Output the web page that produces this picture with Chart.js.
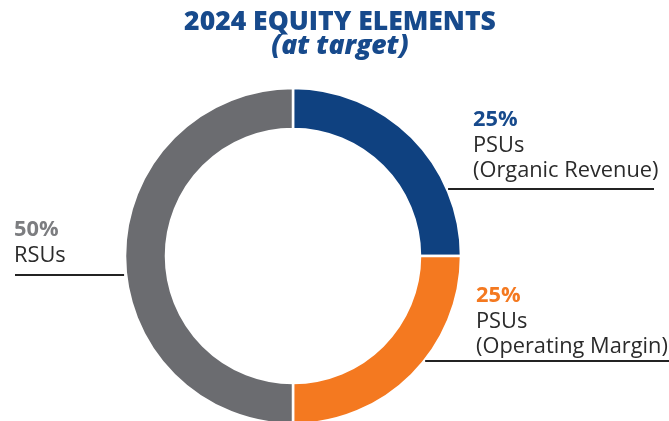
<!DOCTYPE html>
<html lang="en">
<head>
  <meta charset="UTF-8" />
  <title>2024 Equity Elements</title>
  <script src="https://cdn.jsdelivr.net/npm/chart.js"></script>
  <style>
    html, body {
      margin: 0;
      padding: 0;
      background: #fff;
      overflow: hidden;
    }
    .chart-box {
      width: 669px;
      height: 421px;
      position: relative;
    }
  </style>
</head>
<body>
  <div class="chart-box">
    <canvas id="equity"></canvas>
  </div>

  <script>
    // Equity mix at target, clockwise from 12 o'clock
    const categories = ['PSUs\n(Organic Revenue)', 'PSUs\n(Operating Margin)', 'RSUs'];
    const shares = [25, 25, 50];
    const sliceColors = ['#0f4180', '#f47920', '#6b6c70'];
    const pctColors = ['#174a8c', '#f47920', '#7c7d80'];

    const titleText = '2024 EQUITY ELEMENTS';
    const subtitleText = '(at target)';

    // where each callout sits: text anchor, baseline of the % line, leader line y and far end
    const callouts = [
      { side: 'right', textX: 473, top: 126, lineY: 189, lineEnd: 654 },
      { side: 'right', textX: 476, top: 302, lineY: 361, lineEnd: 669 },
      { side: 'left',  textX: 14,  top: 236, lineY: 275, lineEnd: 15 }
    ];

    const calloutPlugin = {
      id: 'callouts',
      afterDraw(chart) {
        const ctx = chart.ctx;
        const arcs = chart.getDatasetMeta(0).data;
        const cx = arcs[0].x, cy = arcs[0].y;
        const R = arcs[0].outerRadius;

        ctx.save();
        // title block
        ctx.fillStyle = '#174a8c';
        ctx.textAlign = 'center';
        ctx.textBaseline = 'alphabetic';
        ctx.font = '800 26.5px "Open Sans"';
        ctx.fillText(titleText, 340, 30);
        ctx.font = 'italic 800 26.5px "Open Sans"';
        ctx.fillText(subtitleText, 340, 54);

        ctx.textAlign = 'left';
        callouts.forEach((c, i) => {
          ctx.fillStyle = pctColors[i];
          ctx.font = '700 21.8px "Open Sans"';
          ctx.fillText(shares[i] + '%', c.textX, c.top);
          ctx.fillStyle = '#2b2b2b';
          ctx.font = '400 21.8px "Open Sans"';
          categories[i].split('\n').forEach((line, k) => {
            ctx.fillText(line, c.textX, c.top + 25.5 * (k + 1));
          });

          // leader line starts just off the ring's outer edge
          const dy = c.lineY - cy;
          const dx = Math.sqrt(Math.max(R * R - dy * dy, 0));
          const startX = c.side === 'right' ? cx + dx + 1 : cx - dx - 2;
          ctx.strokeStyle = '#232323';
          ctx.lineWidth = 2;
          ctx.beginPath();
          ctx.moveTo(startX, c.lineY);
          ctx.lineTo(c.lineEnd, c.lineY);
          ctx.stroke();
        });
        ctx.restore();
      }
    };

    new Chart(document.getElementById('equity'), {
      type: 'doughnut',
      data: {
        labels: categories,
        datasets: [{
          data: shares,
          backgroundColor: sliceColors,
          borderColor: '#ffffff',
          borderWidth: 2.5
        }]
      },
      options: {
        responsive: true,
        maintainAspectRatio: false,
        animation: false,
        radius: 168,
        cutout: '75.6%',
        layout: {
          padding: { left: 193, right: 276, top: 156, bottom: 65 }
        },
        plugins: {
          legend: { display: false },
          tooltip: { enabled: false }
        }
      },
      plugins: [calloutPlugin]
    });
  </script>
</body>
</html>
